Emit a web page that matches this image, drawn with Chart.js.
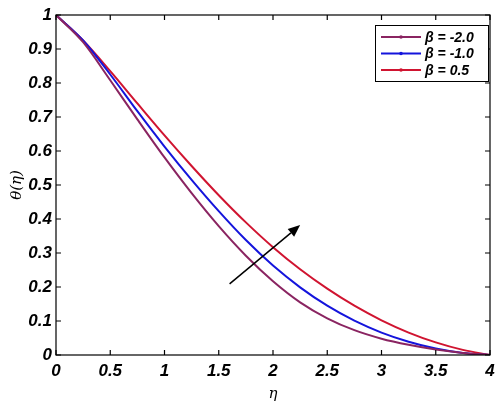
<!DOCTYPE html>
<html>
<head>
<meta charset="utf-8">
<script src="https://cdn.jsdelivr.net/npm/chart.js@4.4.1/dist/chart.umd.min.js"></script>
<style>
html,body{margin:0;padding:0;background:#fff;}
#wrap{width:502px;height:403px;position:relative;}
</style>
</head>
<body>
<div id="wrap"><canvas id="c" width="502" height="403"></canvas></div>
<script>
const eta = [0,0.25,0.5,0.75,1.0,1.25,1.5,1.75,2.0,2.25,2.5,2.75,3.0,3.25,3.5,3.75,4.0];
const thetaBetaM2 = [1,0.92,0.808,0.693,0.581,0.476,0.379,0.292,0.217,0.155,0.108,0.073,0.048,0.03,0.016,0.006,0];
const thetaBetaM1 = [1,0.925,0.825,0.717,0.613,0.515,0.423,0.338,0.263,0.199,0.145,0.101,0.066,0.039,0.019,0.006,0];
const thetaBetaP05 = [1,0.925,0.835,0.74,0.646,0.556,0.47,0.39,0.317,0.252,0.195,0.145,0.102,0.066,0.037,0.015,0];
const seriesLabels = ['β = -2.0','β = -1.0','β = 0.5'];
const seriesColors = ['#8a2461','#1414dc','#d01430'];
const xTicks = [0,0.5,1,1.5,2,2.5,3,3.5,4];
const yTicks = [0,0.1,0.2,0.3,0.4,0.5,0.6,0.7,0.8,0.9,1];
const arrowFrom = {x:1.6, y:0.209};
const arrowTo = {x:2.25, y:0.382};

const FONT = '"Liberation Sans", Arial, sans-serif';
const series = [thetaBetaM2, thetaBetaM1, thetaBetaP05];

const datasets = series.map((s,i)=>({
  label: seriesLabels[i],
  data: eta.map((x,j)=>({x:x,y:s[j]})),
  borderColor: seriesColors[i],
  backgroundColor: seriesColors[i],
  borderWidth: 2,
  pointRadius: 0,
  fill: false,
  cubicInterpolationMode: 'monotone'
}));

const boxPlugin = {
  id:'box',
  afterDatasetsDraw(chart){
    const {ctx, chartArea:a, scales:{x,y}} = chart;
    ctx.save();
    ctx.strokeStyle='#000';
    ctx.lineWidth=1.2;
    ctx.strokeRect(a.left, a.top, a.right-a.left, a.bottom-a.top);
    const L=5;
    ctx.beginPath();
    xTicks.forEach(v=>{
      const px=x.getPixelForValue(v);
      ctx.moveTo(px,a.bottom); ctx.lineTo(px,a.bottom-L);
      ctx.moveTo(px,a.top); ctx.lineTo(px,a.top+L);
    });
    yTicks.forEach(v=>{
      const py=y.getPixelForValue(v);
      ctx.moveTo(a.left,py); ctx.lineTo(a.left+L,py);
      ctx.moveTo(a.right,py); ctx.lineTo(a.right-L,py);
    });
    ctx.stroke();
    // arrow
    const x0=x.getPixelForValue(arrowFrom.x), y0=y.getPixelForValue(arrowFrom.y);
    const x1=x.getPixelForValue(arrowTo.x), y1=y.getPixelForValue(arrowTo.y);
    const ang=Math.atan2(y1-y0,x1-x0);
    const hl=12, hw=5;
    const bx=x1-hl*Math.cos(ang), by=y1-hl*Math.sin(ang);
    ctx.lineWidth=1.5;
    ctx.beginPath(); ctx.moveTo(x0,y0); ctx.lineTo(bx,by); ctx.stroke();
    ctx.fillStyle='#000';
    ctx.beginPath();
    ctx.moveTo(x1,y1);
    ctx.lineTo(bx+hw*Math.sin(ang), by-hw*Math.cos(ang));
    ctx.lineTo(bx-hw*Math.sin(ang), by+hw*Math.cos(ang));
    ctx.closePath(); ctx.fill();
    // legend
    const lx=375, ly=25, lw=113, lh=56;
    ctx.fillStyle='#fff';
    ctx.fillRect(lx,ly,lw,lh);
    ctx.lineWidth=1;
    ctx.strokeStyle='#000';
    ctx.strokeRect(lx+0.5,ly+0.5,lw,lh);
    chart.data.datasets.forEach((d,i)=>{
      const cy=ly+12+i*16.5;
      ctx.strokeStyle=d.borderColor;
      ctx.lineWidth=2;
      ctx.beginPath(); ctx.moveTo(lx+6,cy); ctx.lineTo(lx+46,cy); ctx.stroke();
      ctx.fillStyle=d.borderColor;
      ctx.beginPath(); ctx.arc(lx+26,cy,1.8,0,Math.PI*2); ctx.fill();
      ctx.fillStyle='#000';
      ctx.font='bold italic 14px '+FONT;
      ctx.textBaseline='middle';
      ctx.textAlign='left';
      ctx.fillText(d.label, lx+50, cy+1);
    });
    ctx.restore();
  }
};

new Chart(document.getElementById('c'),{
  type:'line',
  data:{datasets},
  options:{
    responsive:false,
    animation:false,
    layout:{padding:{left:8,right:12,top:15,bottom:0}},
    plugins:{legend:{display:false},tooltip:{enabled:false}},
    scales:{
      x:{
        type:'linear', min:0, max:4,
        afterBuildTicks(s){ s.ticks = xTicks.map(v=>({value:v})); },
        afterFit(s){ s.height=48; },
        grid:{display:false, drawTicks:false},
        border:{display:false},
        ticks:{
          padding:6, color:'#000', maxRotation:0,
          font:{family:FONT, size:17, weight:'bold', style:'italic'},
          callback:(v)=>String(v)
        },
        title:{display:true, text:'η', color:'#000', padding:{top:4,bottom:0},
          font:{family:'"DejaVu Serif", serif', size:15, style:'italic'}}
      },
      y:{
        type:'linear', min:0, max:1,
        afterBuildTicks(s){ s.ticks = yTicks.map(v=>({value:v})); },
        afterFit(s){ s.width=48; },
        grid:{display:false, drawTicks:false},
        border:{display:false},
        ticks:{
          padding:4, color:'#000',
          font:{family:FONT, size:17, weight:'bold', style:'italic'},
          callback:(v)=>String(v)
        },
        title:{display:true, text:'θ(η)', color:'#000', padding:{top:0,bottom:0},
          font:{family:'"DejaVu Serif", serif', size:15, style:'italic'}}
      }
    }
  },
  plugins:[boxPlugin]
});
</script>
</body>
</html>
